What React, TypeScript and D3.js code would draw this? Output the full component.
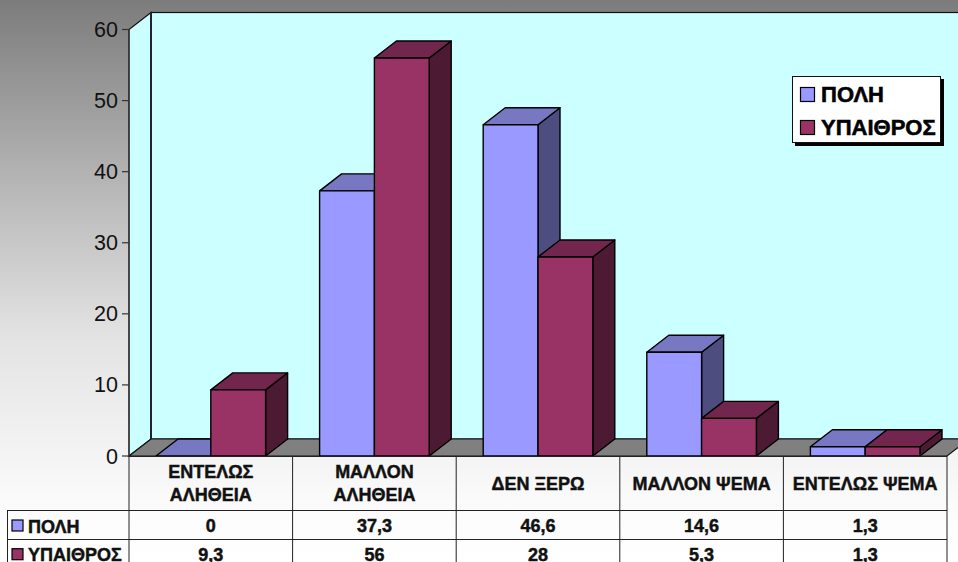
import React from "react";
import * as d3 from "d3";

const categories = [["ΕΝΤΕΛΩΣ", "ΑΛΗΘΕΙΑ"], ["ΜΑΛΛΟΝ", "ΑΛΗΘΕΙΑ"], ["ΔΕΝ ΞΕΡΩ"], ["ΜΑΛΛΟΝ ΨΕΜΑ"], ["ΕΝΤΕΛΩΣ ΨΕΜΑ"]];
const cityValues = [0, 37.3, 46.6, 14.6, 1.3];
const ruralValues = [9.3, 56, 28, 5.3, 1.3];
const cityLabels = ["0", "37,3", "46,6", "14,6", "1,3"];
const ruralLabels = ["9,3", "56", "28", "5,3", "1,3"];
const yTicks = [0, 10, 20, 30, 40, 50, 60];

const W = 958;
const H = 562;
const DX = 22;
const DY = -17;
const FONT = "'Liberation Sans', Arial, sans-serif";
const INK = "#111";

const seriesList = [
  { name: "ΠΟΛΗ", values: cityValues, labels: cityLabels, front: "#9999FF", top: "#7777C2", side: "#4D4D80" },
  { name: "ΥΠΑΙΘΡΟΣ", values: ruralValues, labels: ruralLabels, front: "#993366", top: "#73264D", side: "#4D1A33" },
];

const y = d3.scaleLinear().domain([0, 60]).range([456, 29.5]);
const x = d3.scaleBand<number>().domain(d3.range(categories.length)).range([129, 947]);
const groupPad = 27;

const poly = (pts: number[][]) => pts.map((p) => p.join(",")).join(" ");

function Bar({ x0, x1, v, s }: { x0: number; x1: number; v: number; s: (typeof seriesList)[number] }) {
  const yTop = y(v);
  const yBase = y(0);
  return (
    <g stroke="#000" strokeWidth={1.4} strokeLinejoin="round">
      <polygon points={poly([[x1, yBase], [x1 + DX, yBase + DY], [x1 + DX, yTop + DY], [x1, yTop]])} fill={s.side} />
      <polygon points={poly([[x0, yTop], [x0 + DX, yTop + DY], [x1 + DX, yTop + DY], [x1, yTop]])} fill={s.top} />
      <rect x={x0} y={yTop} width={x1 - x0} height={yBase - yTop} fill={s.front} />
    </g>
  );
}

export default function App() {
  const wallTop = y(60) + DY;
  const floorBack = y(0) + DY;
  const colEdges = [...x.domain().map((i) => x(i) as number), 947];
  return (
    <svg width={W} height={H} viewBox={`0 0 ${W} ${H}`} style={{ position: "fixed", left: 0, top: 0, display: "block" }} fontFamily={FONT}>
      <defs>
        <linearGradient id="page" x1="0" y1="0" x2="0" y2="1">
          <stop offset="0" stopColor="#7c7c7c" />
          <stop offset="0.356" stopColor="#bbbbbb" />
          <stop offset="0.6" stopColor="#e3e3e3" />
          <stop offset="0.9" stopColor="#fbfbfb" />
          <stop offset="1" stopColor="#ffffff" />
        </linearGradient>
      </defs>
      <rect width={W} height={H} fill="url(#page)" />

      {/* back and side walls */}
      <rect x={129 + DX} y={wallTop} width={W} height={floorBack - wallTop} fill="#CCFFFF" stroke="#111" strokeWidth={1.2} />
      <polygon points={poly([[129, 456], [129 + DX, floorBack], [129 + DX, wallTop], [129, y(60)]])} fill="#CCFFFF" stroke="#111" strokeWidth={1.2} />
      <line x1={129 + DX} x2={129 + DX} y1={wallTop} y2={floorBack} stroke="#223" strokeWidth={2} />

      {/* floor */}
      <polygon points={poly([[129, 456], [129 + DX, floorBack], [947 + DX, floorBack], [947, 456]])} fill="#808080" stroke="#111" strokeWidth={1.2} />

      {/* y axis */}
      <line x1={129} x2={129} y1={y(60)} y2={456} stroke="#333" strokeWidth={1.2} />
      {yTicks.map((t) => (
        <g key={t}>
          <line x1={122} x2={129} y1={y(t)} y2={y(t)} stroke="#333" strokeWidth={1.2} />
          <text x={118} y={y(t) + 7.5} textAnchor="end" fontSize={21.5} fill={INK}>{t}</text>
        </g>
      ))}

      {/* 3D columns */}
      {x.domain().map((i) => {
        const left = (x(i) as number) + groupPad;
        const w = (x.bandwidth() - 2 * groupPad) / 2;
        return (
          <g key={i}>
            {seriesList.map((s, j) => (
              <Bar key={s.name} x0={left + j * w} x1={left + (j + 1) * w} v={s.values[i]} s={s} />
            ))}
          </g>
        );
      })}

      {/* legend */}
      <rect x={795} y={79} width={149} height={67} fill="#000" />
      <rect x={792.5} y={76.5} width={148} height={66} fill="#fff" stroke="#111" strokeWidth={1} />
      {seriesList.map((s, j) => (
        <g key={s.name}>
          <rect x={800.5} y={87.5 + j * 33} width={14} height={14} fill={s.front} stroke="#000" strokeWidth={1.2} />
          <text x={821} y={102 + j * 33} fontSize={22} fontWeight="bold" fill="#000" stroke="#000" strokeWidth={0.55}>{s.name}</text>
        </g>
      ))}

      {/* data table */}
      <g stroke="#222" strokeWidth={1}>
        {colEdges.map((cx) => (
          <line key={cx} x1={cx} x2={cx} y1={456} y2={H} />
        ))}
        <line x1={129} x2={947} y1={456.5} y2={456.5} />
        <line x1={7} x2={947} y1={510.5} y2={510.5} />
        <line x1={7} x2={947} y1={539.5} y2={539.5} />
        <line x1={7.5} x2={7.5} y1={510} y2={H} />
      </g>
      <g fontSize={18} fontWeight="bold" fill={INK} stroke={INK} strokeWidth={0.45}>
        {categories.map((lines, i) => {
          const cx = (x(i) as number) + x.bandwidth() / 2;
          const startY = lines.length === 2 ? 478 : 490;
          return lines.map((line, k) => (
            <text key={line} x={cx} y={startY + k * 23} textAnchor="middle">{line}</text>
          ));
        })}
        {seriesList.map((s, j) => {
          const rowY = 532 + j * 28.7;
          return (
            <g key={s.name}>
              <rect x={12} y={rowY - 12} width={11} height={11} fill={s.front} stroke="#000" strokeWidth={1.2} />
              <text x={28} y={rowY + 0.5}>{s.name}</text>
              {s.labels.map((lab, i) => (
                <text key={i} x={(x(i) as number) + x.bandwidth() / 2} y={rowY} textAnchor="middle">{lab}</text>
              ))}
            </g>
          );
        })}
      </g>
    </svg>
  );
}
